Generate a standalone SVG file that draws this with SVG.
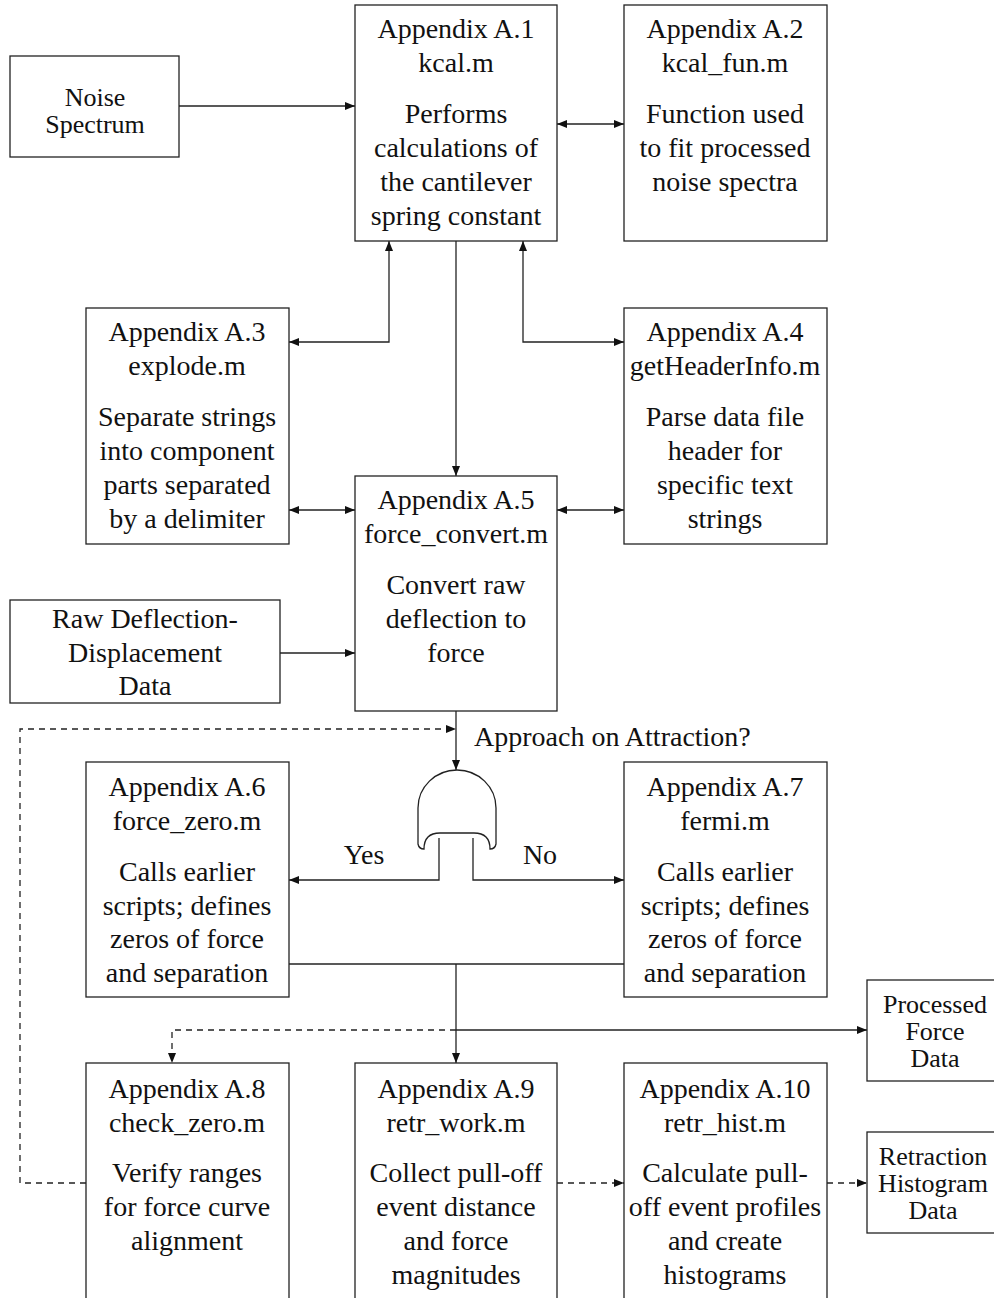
<svg xmlns="http://www.w3.org/2000/svg" width="994" height="1298" viewBox="0 0 994 1298">
  <style>
    .box { fill: #ffffff; stroke: #222222; stroke-width: 1.3; }
    .t { font-family: "Liberation Serif", "Times New Roman", serif; font-size: 28px; fill: #111111; text-anchor: middle; }
    .ts { font-family: "Liberation Serif", "Times New Roman", serif; font-size: 26px; fill: #111111; text-anchor: middle; }
    .lbl { font-family: "Liberation Serif", "Times New Roman", serif; font-size: 28px; fill: #111111; }
    .ln { fill: none; stroke: #222222; stroke-width: 1.3; }
    .dash { fill: none; stroke: #222222; stroke-width: 1.3; stroke-dasharray: 6 5; }
  </style>
  <defs>
    <marker id="arr" viewBox="0 0 10 8" refX="10" refY="4" markerWidth="10" markerHeight="8" markerUnits="userSpaceOnUse" orient="auto-start-reverse">
      <path d="M0,0 L10,4 L0,8 Z" fill="#111111"/>
    </marker>
  </defs>

  <rect width="994" height="1298" fill="#ffffff"/>

  <!-- connectors -->
  <g id="connectors">
    <path class="ln" d="M179,106 H355" marker-end="url(#arr)"/>
    <path class="ln" d="M557,124 H624" marker-start="url(#arr)" marker-end="url(#arr)"/>
    <path class="ln" d="M456,241 V476" marker-end="url(#arr)"/>
    <path class="ln" d="M289,342 H389 V241" marker-start="url(#arr)" marker-end="url(#arr)"/>
    <path class="ln" d="M624,342 H523 V241" marker-start="url(#arr)" marker-end="url(#arr)"/>
    <path class="ln" d="M289,510 H355" marker-start="url(#arr)" marker-end="url(#arr)"/>
    <path class="ln" d="M557,510 H624" marker-start="url(#arr)" marker-end="url(#arr)"/>
    <path class="ln" d="M280,653 H355" marker-end="url(#arr)"/>
    <path class="ln" d="M456,711 V770" marker-end="url(#arr)"/>
    <path class="dash" d="M86,1183 H20 V729 H456" marker-end="url(#arr)"/>
    <path class="ln" d="M439,838 V880 H289" marker-end="url(#arr)"/>
    <path class="ln" d="M473,838 V880 H624" marker-end="url(#arr)"/>
    <path class="ln" d="M289,964 H624"/>
    <path class="ln" d="M456,964 V1063" marker-end="url(#arr)"/>
    <path class="ln" d="M456,1030 H867" marker-end="url(#arr)"/>
    <path class="dash" d="M456,1030 H172 V1063" marker-end="url(#arr)"/>
    <path class="dash" d="M557,1183 H624" marker-end="url(#arr)"/>
    <path class="dash" d="M827,1183 H867" marker-end="url(#arr)"/>
  </g>

  <!-- decision gate -->
  <g id="gate">
    <path class="ln" d="M418,832 V808 A39,38 0 0 1 496,808 V832"/>
    <path class="ln" d="M418,832 V844 Q419,849 424,849 Q424,833 440,833 H474 Q490,833 490,849 Q495,849 496,844 V832"/>
    <text class="lbl" x="474" y="746">Approach on Attraction?</text>
    <text class="t" x="364" y="864">Yes</text>
    <text class="t" x="540" y="864">No</text>
  </g>

  <g id="noise">
    <rect class="box" x="10" y="56" width="169" height="101"/>
    <text class="ts" x="95" y="106">Noise</text>
    <text class="ts" x="95" y="133">Spectrum</text>
  </g>

  <g id="a1">
    <rect class="box" x="355" y="5" width="202" height="236"/>
    <text class="t" x="456" y="38">Appendix A.1</text>
    <text class="t" x="456" y="72">kcal.m</text>
    <text class="t" x="456" y="123">Performs</text>
    <text class="t" x="456" y="157">calculations of</text>
    <text class="t" x="456" y="191">the cantilever</text>
    <text class="t" x="456" y="225">spring constant</text>
  </g>

  <g id="a2">
    <rect class="box" x="624" y="5" width="203" height="236"/>
    <text class="t" x="725" y="38">Appendix A.2</text>
    <text class="t" x="725" y="72">kcal_fun.m</text>
    <text class="t" x="725" y="123">Function used</text>
    <text class="t" x="725" y="157">to fit processed</text>
    <text class="t" x="725" y="191">noise spectra</text>
  </g>

  <g id="a3">
    <rect class="box" x="86" y="308" width="203" height="236"/>
    <text class="t" x="187" y="341">Appendix A.3</text>
    <text class="t" x="187" y="375">explode.m</text>
    <text class="t" x="187" y="426">Separate strings</text>
    <text class="t" x="187" y="460">into component</text>
    <text class="t" x="187" y="494">parts separated</text>
    <text class="t" x="187" y="528">by a delimiter</text>
  </g>

  <g id="a4">
    <rect class="box" x="624" y="308" width="203" height="236"/>
    <text class="t" x="725" y="341">Appendix A.4</text>
    <text class="t" x="725" y="375">getHeaderInfo.m</text>
    <text class="t" x="725" y="426">Parse data file</text>
    <text class="t" x="725" y="460">header for</text>
    <text class="t" x="725" y="494">specific text</text>
    <text class="t" x="725" y="528">strings</text>
  </g>

  <g id="a5">
    <rect class="box" x="355" y="476" width="202" height="235"/>
    <text class="t" x="456" y="509">Appendix A.5</text>
    <text class="t" x="456" y="543">force_convert.m</text>
    <text class="t" x="456" y="594">Convert raw</text>
    <text class="t" x="456" y="628">deflection to</text>
    <text class="t" x="456" y="662">force</text>
  </g>

  <g id="raw">
    <rect class="box" x="10" y="600" width="270" height="103"/>
    <text class="t" x="145" y="628">Raw Deflection-</text>
    <text class="t" x="145" y="662">Displacement</text>
    <text class="t" x="145" y="695">Data</text>
  </g>

  <g id="a6">
    <rect class="box" x="86" y="762" width="203" height="235"/>
    <text class="t" x="187" y="796">Appendix A.6</text>
    <text class="t" x="187" y="830">force_zero.m</text>
    <text class="t" x="187" y="881">Calls earlier</text>
    <text class="t" x="187" y="915">scripts; defines</text>
    <text class="t" x="187" y="948">zeros of force</text>
    <text class="t" x="187" y="982">and separation</text>
  </g>

  <g id="a7">
    <rect class="box" x="624" y="762" width="203" height="235"/>
    <text class="t" x="725" y="796">Appendix A.7</text>
    <text class="t" x="725" y="830">fermi.m</text>
    <text class="t" x="725" y="881">Calls earlier</text>
    <text class="t" x="725" y="915">scripts; defines</text>
    <text class="t" x="725" y="948">zeros of force</text>
    <text class="t" x="725" y="982">and separation</text>
  </g>

  <g id="processed">
    <rect class="box" x="867" y="980" width="140" height="101"/>
    <text class="ts" x="935" y="1013">Processed</text>
    <text class="ts" x="935" y="1040">Force</text>
    <text class="ts" x="935" y="1067">Data</text>
  </g>

  <g id="a8">
    <rect class="box" x="86" y="1063" width="203" height="300"/>
    <text class="t" x="187" y="1098">Appendix A.8</text>
    <text class="t" x="187" y="1132">check_zero.m</text>
    <text class="t" x="187" y="1182">Verify ranges</text>
    <text class="t" x="187" y="1216">for force curve</text>
    <text class="t" x="187" y="1250">alignment</text>
  </g>

  <g id="a9">
    <rect class="box" x="355" y="1063" width="202" height="300"/>
    <text class="t" x="456" y="1098">Appendix A.9</text>
    <text class="t" x="456" y="1132">retr_work.m</text>
    <text class="t" x="456" y="1182">Collect pull-off</text>
    <text class="t" x="456" y="1216">event distance</text>
    <text class="t" x="456" y="1250">and force</text>
    <text class="t" x="456" y="1284">magnitudes</text>
  </g>

  <g id="a10">
    <rect class="box" x="624" y="1063" width="203" height="300"/>
    <text class="t" x="725" y="1098">Appendix A.10</text>
    <text class="t" x="725" y="1132">retr_hist.m</text>
    <text class="t" x="725" y="1182">Calculate pull-</text>
    <text class="t" x="725" y="1216">off event profiles</text>
    <text class="t" x="725" y="1250">and create</text>
    <text class="t" x="725" y="1284">histograms</text>
  </g>

  <g id="retraction">
    <rect class="box" x="867" y="1132" width="140" height="101"/>
    <text class="ts" x="933" y="1165">Retraction</text>
    <text class="ts" x="933" y="1192">Histogram</text>
    <text class="ts" x="933" y="1219">Data</text>
  </g>
</svg>
